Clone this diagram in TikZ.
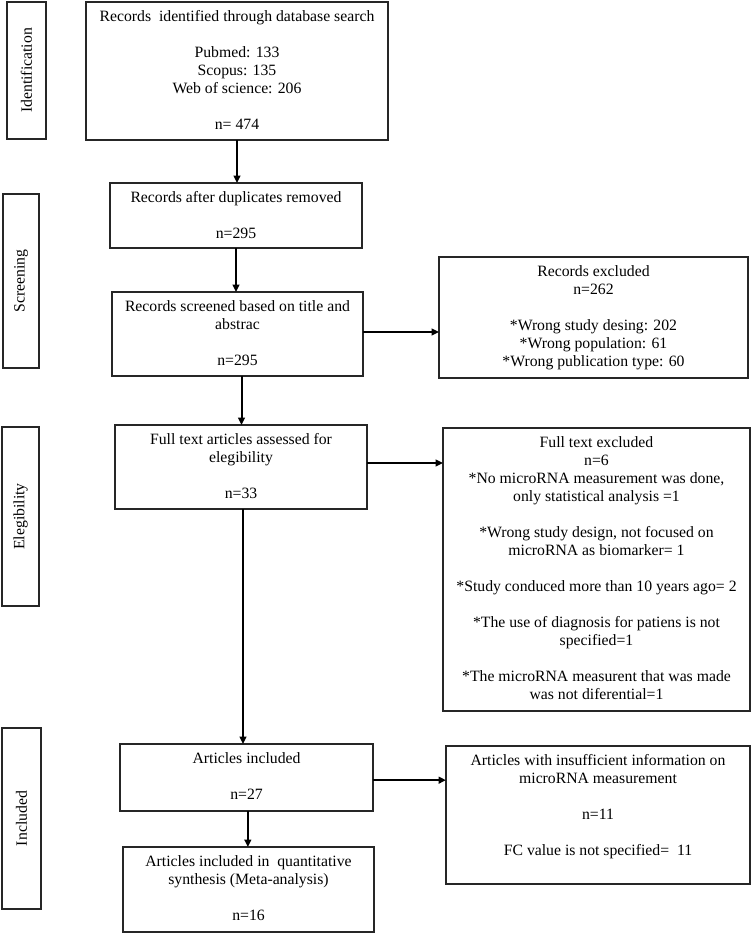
\documentclass[tikz,border=0pt]{standalone}
\usepackage{fontspec}
\setmainfont{Liberation Serif}
\usetikzlibrary{arrows.meta}
\newcommand{\bxt}[3]{\parbox[c][\dimexpr #2pt*3/4\relax][t]{\dimexpr #1pt*3/4\relax}{\centering\rule{0pt}{14.5pt}#3}}
\newcommand{\blk}{\\[13.5pt]}
\newcommand{\nl}{\\\relax}
\tikzset{
  box/.style={draw=black!85, line width=0.8pt, inner sep=0pt, outer sep=0pt, font=\fontsize{11.8pt}{13.5pt}\selectfont},
  stage/.style={draw=black!85, line width=0.8pt, inner sep=0pt, outer sep=0pt, rotate=90, font=\fontsize{11.8pt}{13.5pt}\selectfont},
  arr/.style={line width=1.5pt, -{Triangle[length=5.5pt,width=5pt]}}
}
\begin{document}
\begin{tikzpicture}[x=0.75pt,y=-0.75pt]
\useasboundingbox (0,0) rectangle (751,933);
% stage labels
\node[stage, minimum width=137*0.75pt, minimum height=39*0.75pt] (idL) at (26.5,70.5) {Identification};
\node[stage, minimum width=174*0.75pt, minimum height=36*0.75pt] (scL) at (21,281) {Screening};
\node[stage, minimum width=179*0.75pt, minimum height=37*0.75pt] (elL) at (20.5,516.5) {Elegibility};
\node[stage, minimum width=181*0.75pt, minimum height=39*0.75pt] (inL) at (21.5,818.5) {Included};
% main column
\node[box] (b1) at (237,71) {\bxt{302}{138}{Records~ identified through database search\blk Pubmed: 133\nl Scopus: 135\nl Web of science: 206\blk n= 474}};
\node[box] (b2) at (236,215.5) {\bxt{252}{65}{Records after duplicates removed\blk n=295}};
\node[box] (b3) at (237.5,334) {\bxt{251}{84}{Records screened based on title and\nl abstrac\blk n=295}};
\node[box] (b4) at (241,467) {\bxt{252}{84}{Full text articles assessed for\nl elegibility\blk n=33}};
\node[box] (b5) at (246.5,777.5) {\bxt{253}{67}{Articles included\blk n=27}};
\node[box] (b6) at (248.5,889.5) {\bxt{251}{85}{Articles included in~ quantitative\nl synthesis (Meta-analysis)\blk n=16}};
% right column
\node[box] (r1) at (593.5,317.5) {\bxt{309}{121}{Records excluded\nl n=262\blk {*}Wrong study desing: 202\nl {*}Wrong population: 61\nl {*}Wrong publication type: 60}};
\node[box] (r2) at (596.5,569.5) {\bxt{307}{283}{Full text excluded\nl n=6\nl {*}No microRNA measurement was done,\nl only statistical analysis =1\blk {*}Wrong study design, not focused on\nl microRNA as biomarker= 1\blk {*}Study conduced more than 10 years ago= 2\blk {*}The use of diagnosis for patiens is not\nl specified=1\blk {*}The microRNA measurent that was made\nl was not diferential=1}};
\node[box] (r3) at (598,815) {\bxt{304}{138}{Articles with insufficient information on\nl microRNA measurement\blk n=11\blk FC value is not specified=~ 11}};
% connectors
\draw[arr] (b1.south) -- (b1.south |- b2.north);
\draw[arr] (b2.south) -- (b2.south |- b3.north);
\draw[arr] ([xshift=3pt]b3.south) -- ([xshift=3pt]b3.south |- b4.north);
\draw[arr] ([xshift=1.5pt]b4.south) -- ([xshift=1.5pt]b4.south |- b5.north);
\draw[arr] ([xshift=1pt]b5.south) -- ([xshift=1pt]b5.south |- b6.north);
\draw[arr] ([yshift=1.5pt]b3.east) -- ([yshift=1.5pt]b3.east -| r1.west);
\draw[arr] ([yshift=3pt]b4.east) -- ([yshift=3pt]b4.east -| r2.west);
\draw[arr] ([yshift=-2pt]b5.east) -- ([yshift=-2pt]b5.east -| r3.west);
\end{tikzpicture}
\end{document}
